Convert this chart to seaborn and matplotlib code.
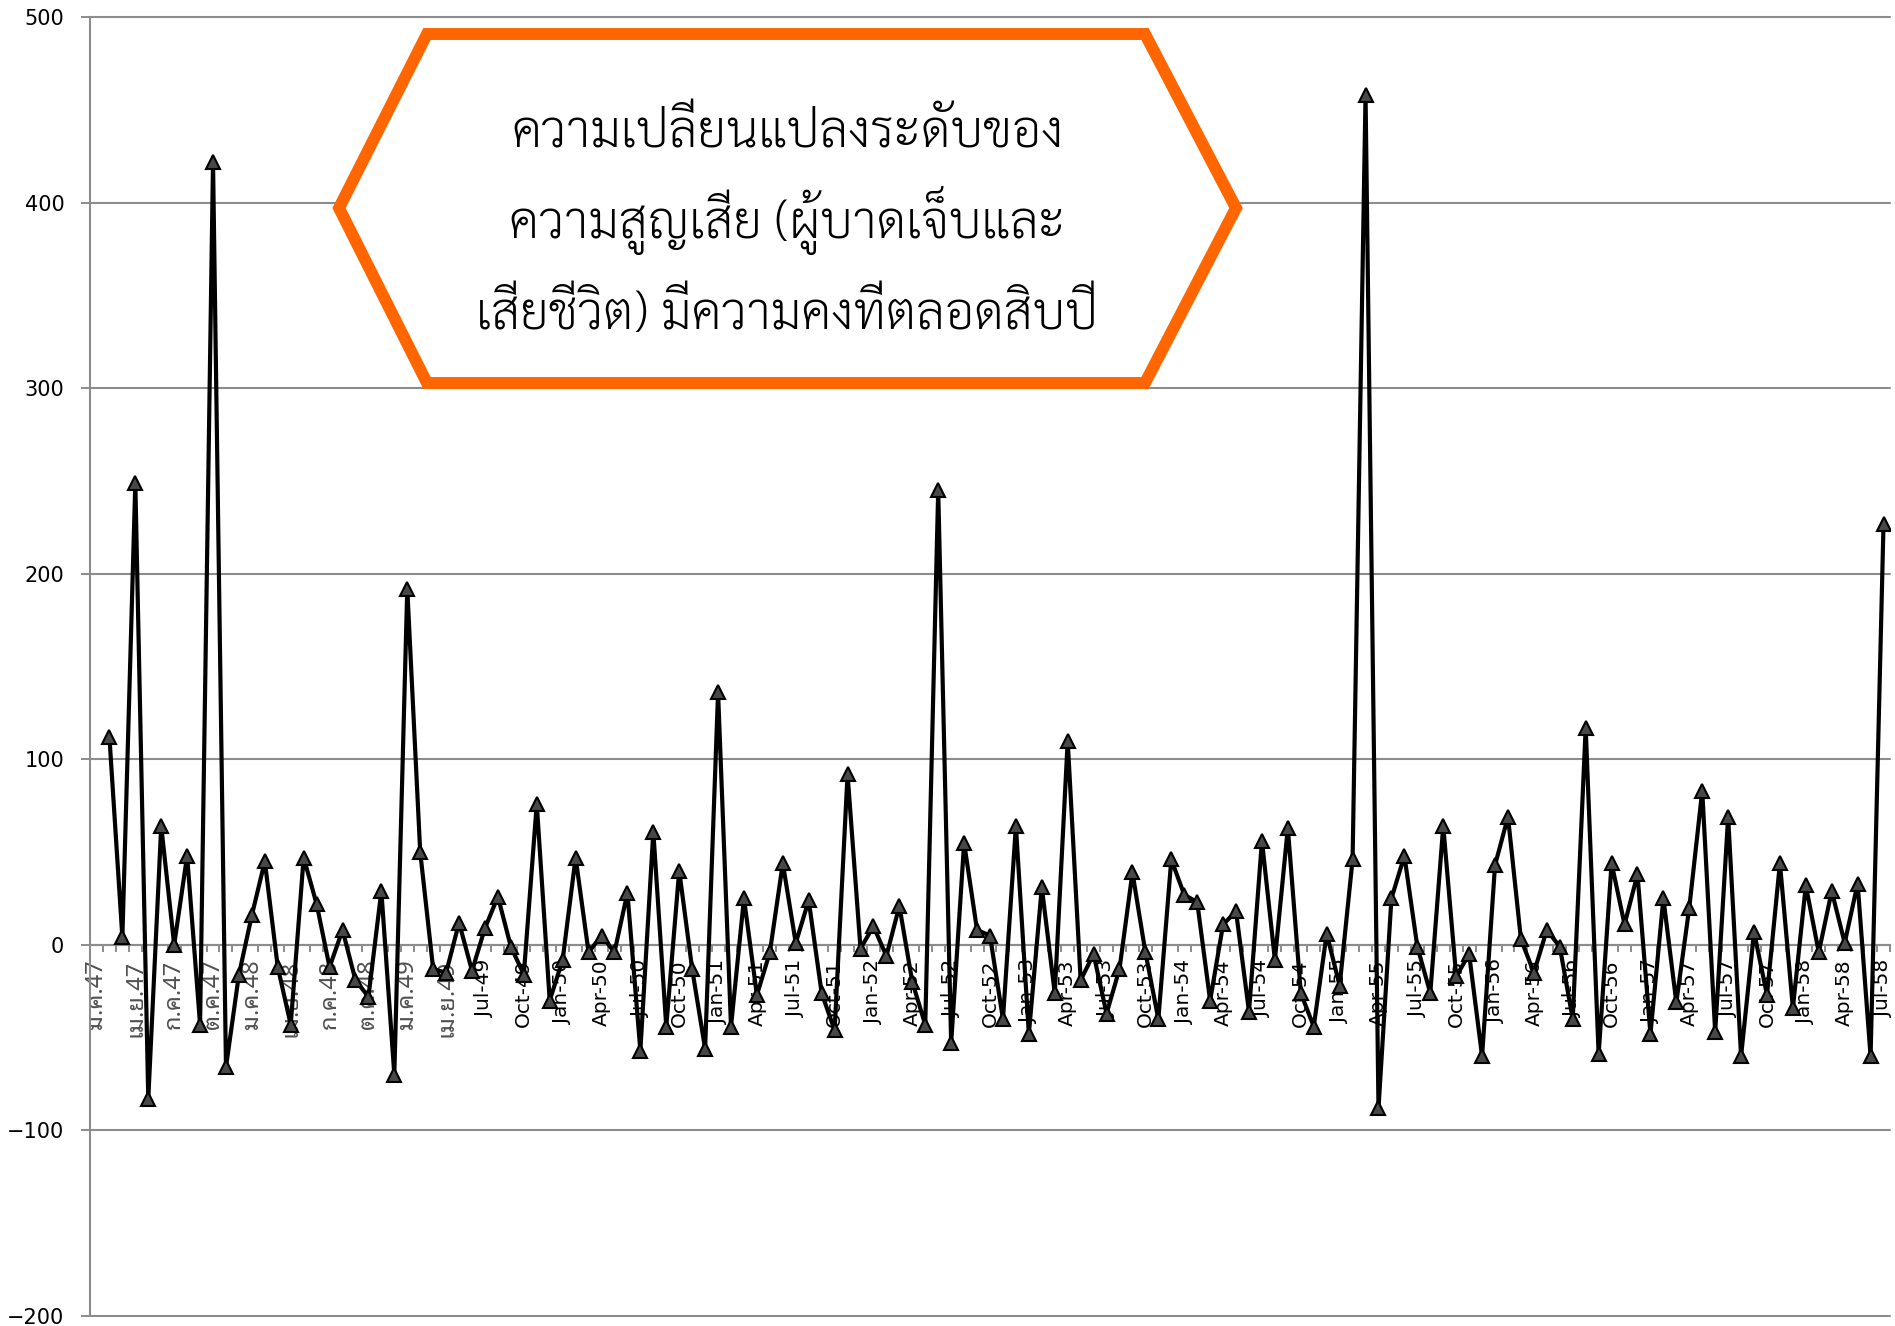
import numpy as np
import pandas as pd
import matplotlib
matplotlib.use("Agg")
import matplotlib.pyplot as plt
import seaborn as sns
from matplotlib import font_manager as fm
from matplotlib.font_manager import FontProperties
from matplotlib.patches import Polygon

# ---------------- data ----------------
tick_labels_th = ["ม.ค.47", "เม.ย.47", "ก.ค.47", "ต.ค.47", "ม.ค.48",
                  "เม.ย.48", "ก.ค.48", "ต.ค.48", "ม.ค.49", "เม.ย.49"]
tick_labels_en = ["Jul-49", "Oct-49",
                  "Jan-50", "Apr-50", "Jul-50", "Oct-50",
                  "Jan-51", "Apr-51", "Jul-51", "Oct-51",
                  "Jan-52", "Apr-52", "Jul-52", "Oct-52",
                  "Jan-53", "Apr-53", "Jul-53", "Oct-53",
                  "Jan-54", "Apr-54", "Jul-54", "Oct-54",
                  "Jan-55", "Apr-55", "Jul-55", "Oct-55",
                  "Jan-56", "Apr-56", "Jul-56", "Oct-56",
                  "Jan-57", "Apr-57", "Jul-57", "Oct-57",
                  "Jan-58", "Apr-58", "Jul-58"]

# monthly change (first month ม.ค.47 has no value)
change_values = [
    112, 4, 249, -83, 64, 0, 48, -43, 422, -66,
    -16, 16, 45, -12, -43, 47, 22, -12, 8, -19,
    -28, 29, -70, 192, 50, -13, -15, 12, -14, 9,
    26, -1, -16, 76, -30, -8, 47, -4, 5, -4,
    28, -57, 61, -44, 40, -13, -56, 136, -44, 25,
    -27, -4, 44, 1, 24, -26, -46, 92, -2, 10,
    -6, 21, -20, -43, 245, -53, 55, 8, 5, -40,
    64, -48, 31, -26, 110, -19, -5, -37, -13, 39,
    -4, -40, 46, 27, 23, -30, 11, 18, -36, 56,
    -8, 63, -26, -44, 6, -22, 46, 458, -88, 25,
    48, -1, -26, 64, -17, -5, -60, 43, 69, 3,
    -15, 8, -1, -40, 117, -59, 44, 11, 38, -48,
    25, -31, 20, 83, -47, 69, -60, 7, -27, 44,
    -34, 32, -4, 29, 1, 33, -60, 227,
]

title_lines = ["ความเปลี่ยนแปลงระดับของ",
               "ความสูญเสีย (ผู้บาดเจ็บและ",
               "เสียชีวิต) มีความคงที่ตลอดสิบปี"]

all_labels = tick_labels_th + tick_labels_en
n_categories = 3 * (len(all_labels) - 1) + 1          # 139 months
df = pd.DataFrame({"month": np.arange(1, 1 + len(change_values)),
                   "change": change_values})

# ---------------- fonts ----------------
def find_thai_fonts():
    found = []
    try:
        from fontTools.ttLib import TTFont
    except Exception:
        return found
    for path in sorted(set(fm.findSystemFonts())):
        try:
            tt = TTFont(path, fontNumber=0, lazy=True)
            cmap = tt.getBestCmap() or {}
            if 0x0E04 in cmap and 0x0E35 in cmap and 0x0E48 in cmap:
                found.append(path)
            tt.close()
        except Exception:
            continue
    return found

thai_paths = find_thai_fonts()

def pick(prefs):
    for p in prefs:
        for path in thai_paths:
            if p in path.lower().replace(" ", "").replace("-", "").replace("_", ""):
                if "bold" in path.lower() or "italic" in path.lower() or "oblique" in path.lower():
                    continue
                return path
    for path in thai_paths:
        if "bold" not in path.lower():
            return path
    return thai_paths[0] if thai_paths else None

title_font_path = pick(["laksaman", "sarabun", "norasi", "kinnari", "notoserifthai",
                        "serifthai", "serif", "tlwg"])
tick_font_path = pick(["notosansthai", "loma", "garuda", "sansthai", "sans"])

def fp(path, size):
    if path:
        return FontProperties(fname=path, size=size)
    return FontProperties(family="DejaVu Sans", size=size)

# ---------------- figure ----------------
sns.set_theme(style="white")
plt.rcParams["font.family"] = ["DejaVu Sans"]

W, H = 1895, 1326
fig = plt.figure(figsize=(W / 100, H / 100), dpi=100)
ax = fig.add_axes([90 / W, 10 / H, (1890 - 90) / W, (1316 - 17) / H])

grid_col = "#8c8c8c"

sns.lineplot(data=df, x="month", y="change", ax=ax, color="black",
             linewidth=3.0, marker="^", markersize=10,
             markerfacecolor="#484848", markeredgecolor="black",
             markeredgewidth=1.5, zorder=5)

ax.set_xlim(-0.5, n_categories - 0.5)
ax.set_ylim(-200, 500)
ax.set_xlabel("")
ax.set_ylabel("")

# y axis
ax.set_yticks(np.arange(-200, 501, 100))
ax.yaxis.grid(True, color=grid_col, linewidth=1.5)
ax.xaxis.grid(False)
ax.set_axisbelow(True)
for gl in ax.get_ygridlines():
    gl.set_clip_on(False)
ax.tick_params(axis="y", direction="out", length=6.5, width=1.4, color=grid_col,
               labelsize=15, pad=12, labelcolor="black", left=True)

# spines
for s in ("top", "right"):
    ax.spines[s].set_visible(False)
ax.spines["left"].set_color(grid_col)
ax.spines["left"].set_linewidth(1.5)
ax.spines["bottom"].set_position(("data", 0))
ax.spines["bottom"].set_color(grid_col)
ax.spines["bottom"].set_linewidth(1.5)

# x axis: labels every 3 months, tick marks at category boundaries
label_pos = np.arange(0, n_categories, 3)
ax.set_xticks(label_pos)
ax.set_xticklabels(all_labels, rotation=90)
ax.set_xticks(np.arange(-0.5, n_categories, 1), minor=True)
ax.tick_params(axis="x", which="major", length=0, pad=10.5, labelsize=14.5,
               labelcolor="black", bottom=True)
ax.tick_params(axis="x", which="minor", direction="out", length=5, width=1.4,
               color=grid_col, bottom=True)
for lab in ax.get_xticklabels():
    lab.set_ha("center")
    lab.set_va("top")
    if lab.get_text() in tick_labels_th:
        lab.set_fontproperties(fp(tick_font_path, 17))
        lab.set_color("#505050")

# ---------------- hexagon callout ----------------
hex_px = [(339, 208), (427, 34), (1145, 34), (1236, 208), (1145, 383), (427, 383)]
hex_fig = [(x / W, 1 - y / H) for x, y in hex_px]
hexagon = Polygon(hex_fig, closed=True, transform=fig.transFigure,
                  facecolor="white", edgecolor="#FF6600", linewidth=8.6,
                  joinstyle="miter", zorder=20)
fig.add_artist(hexagon)

# title text, sized to the reference line widths
target_widths = [554, 546, 628]
baselines = [147, 238, 329]
cx = 787 / W
texts = []
base_size = 40
for line, yb in zip(title_lines, baselines):
    t = fig.text(cx, 1 - yb / H, line, ha="center", va="baseline",
                 fontproperties=fp(title_font_path, base_size), color="black", zorder=21)
    texts.append(t)
fig.canvas.draw()
r = fig.canvas.get_renderer()
measured = [t.get_window_extent(r).width for t in texts]
scale = sum(target_widths) / max(sum(measured), 1)
new_size = base_size * scale
for t in texts:
    t.set_fontproperties(fp(title_font_path, new_size))

fig.savefig("out.png", dpi=100)
